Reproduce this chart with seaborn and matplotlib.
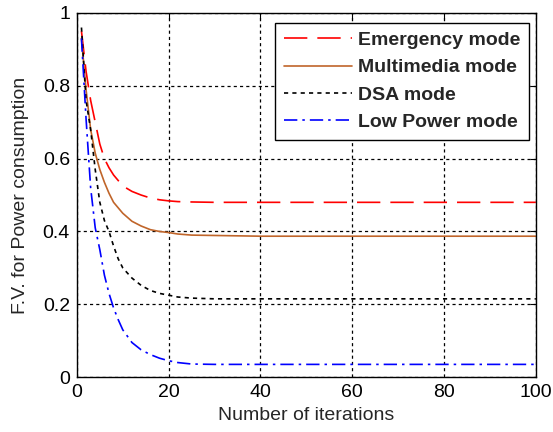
import matplotlib
matplotlib.use("Agg")
import matplotlib.pyplot as plt
import seaborn as sns
import pandas as pd

iterations = [1, 2, 3, 4, 5, 6, 7, 8, 9, 10, 12, 14, 16, 18, 20, 22, 25, 30, 40, 60, 80, 100]
emergency = [0.95, 0.84, 0.76, 0.70, 0.64, 0.60, 0.575, 0.555, 0.54, 0.525, 0.51, 0.50, 0.492, 0.487, 0.484, 0.482, 0.481, 0.48, 0.48, 0.48, 0.48, 0.48]
multimedia = [0.93, 0.79, 0.68, 0.615, 0.57, 0.535, 0.505, 0.48, 0.465, 0.45, 0.428, 0.415, 0.405, 0.40, 0.397, 0.393, 0.39, 0.389, 0.387, 0.387, 0.387, 0.387]
dsa = [0.96, 0.76, 0.68, 0.57, 0.48, 0.43, 0.40, 0.36, 0.325, 0.30, 0.272, 0.252, 0.238, 0.23, 0.225, 0.22, 0.217, 0.215, 0.215, 0.215, 0.215, 0.215]
low_power = [0.93, 0.71, 0.52, 0.41, 0.35, 0.28, 0.23, 0.19, 0.158, 0.13, 0.095, 0.075, 0.062, 0.052, 0.045, 0.04, 0.036, 0.035, 0.035, 0.035, 0.035, 0.035]

labels = ["Emergency mode", "Multimedia mode", "DSA mode", "Low Power mode"]
colors = ["#FF0000", "#C0652A", "#000000", "#0000FF"]
styles = [(0, (14, 6)), "-", (0, (2.5, 2.5)), (0, (8, 3, 1.5, 3))]

sns.set_style("white")
plt.rcParams["font.family"] = ["Liberation Sans", "DejaVu Sans"]

fig = plt.figure(figsize=(5.53, 4.32), dpi=100)
ax = fig.add_axes([0.139, 0.127, 0.830, 0.843])

series = [emergency, multimedia, dsa, low_power]
for vals, lab, col, ls in zip(series, labels, colors, styles):
    df = pd.DataFrame({"x": iterations, "y": vals})
    sns.lineplot(data=df, x="x", y="y", ax=ax, color=col, linestyle=ls, linewidth=1.2, label=lab)

ax.set_xlim(0, 100)
ax.set_ylim(0, 1)
ax.set_xticks([0, 20, 40, 60, 80, 100])
ax.set_yticks([0, 0.2, 0.4, 0.6, 0.8, 1])
ax.set_yticklabels(["0", "0.2", "0.4", "0.6", "0.8", "1"])
ax.grid(True, color="black", linestyle=(0, (2.5, 2.5)), linewidth=0.9)
ax.set_axisbelow(True)
for s in ax.spines.values():
    s.set_color("black")
    s.set_linewidth(1.0)
ax.tick_params(direction="in", length=4, labelsize=14, colors="black", top=True, right=True, pad=5)
ax.set_xlabel("Number of iterations", fontsize=14, labelpad=4)
ax.set_ylabel("F.V. for Power consumption", fontsize=14, labelpad=10)

leg = ax.legend(loc="upper right", prop={"size": 14, "weight": "bold"}, handlelength=3.5,
                handletextpad=0.3, labelspacing=0.5, borderpad=0.45, borderaxespad=0.0,
                fancybox=False, framealpha=1, edgecolor="black", bbox_to_anchor=(0.985, 0.973))
leg.get_frame().set_linewidth(1.0)

fig.savefig("out.png", dpi=100)
